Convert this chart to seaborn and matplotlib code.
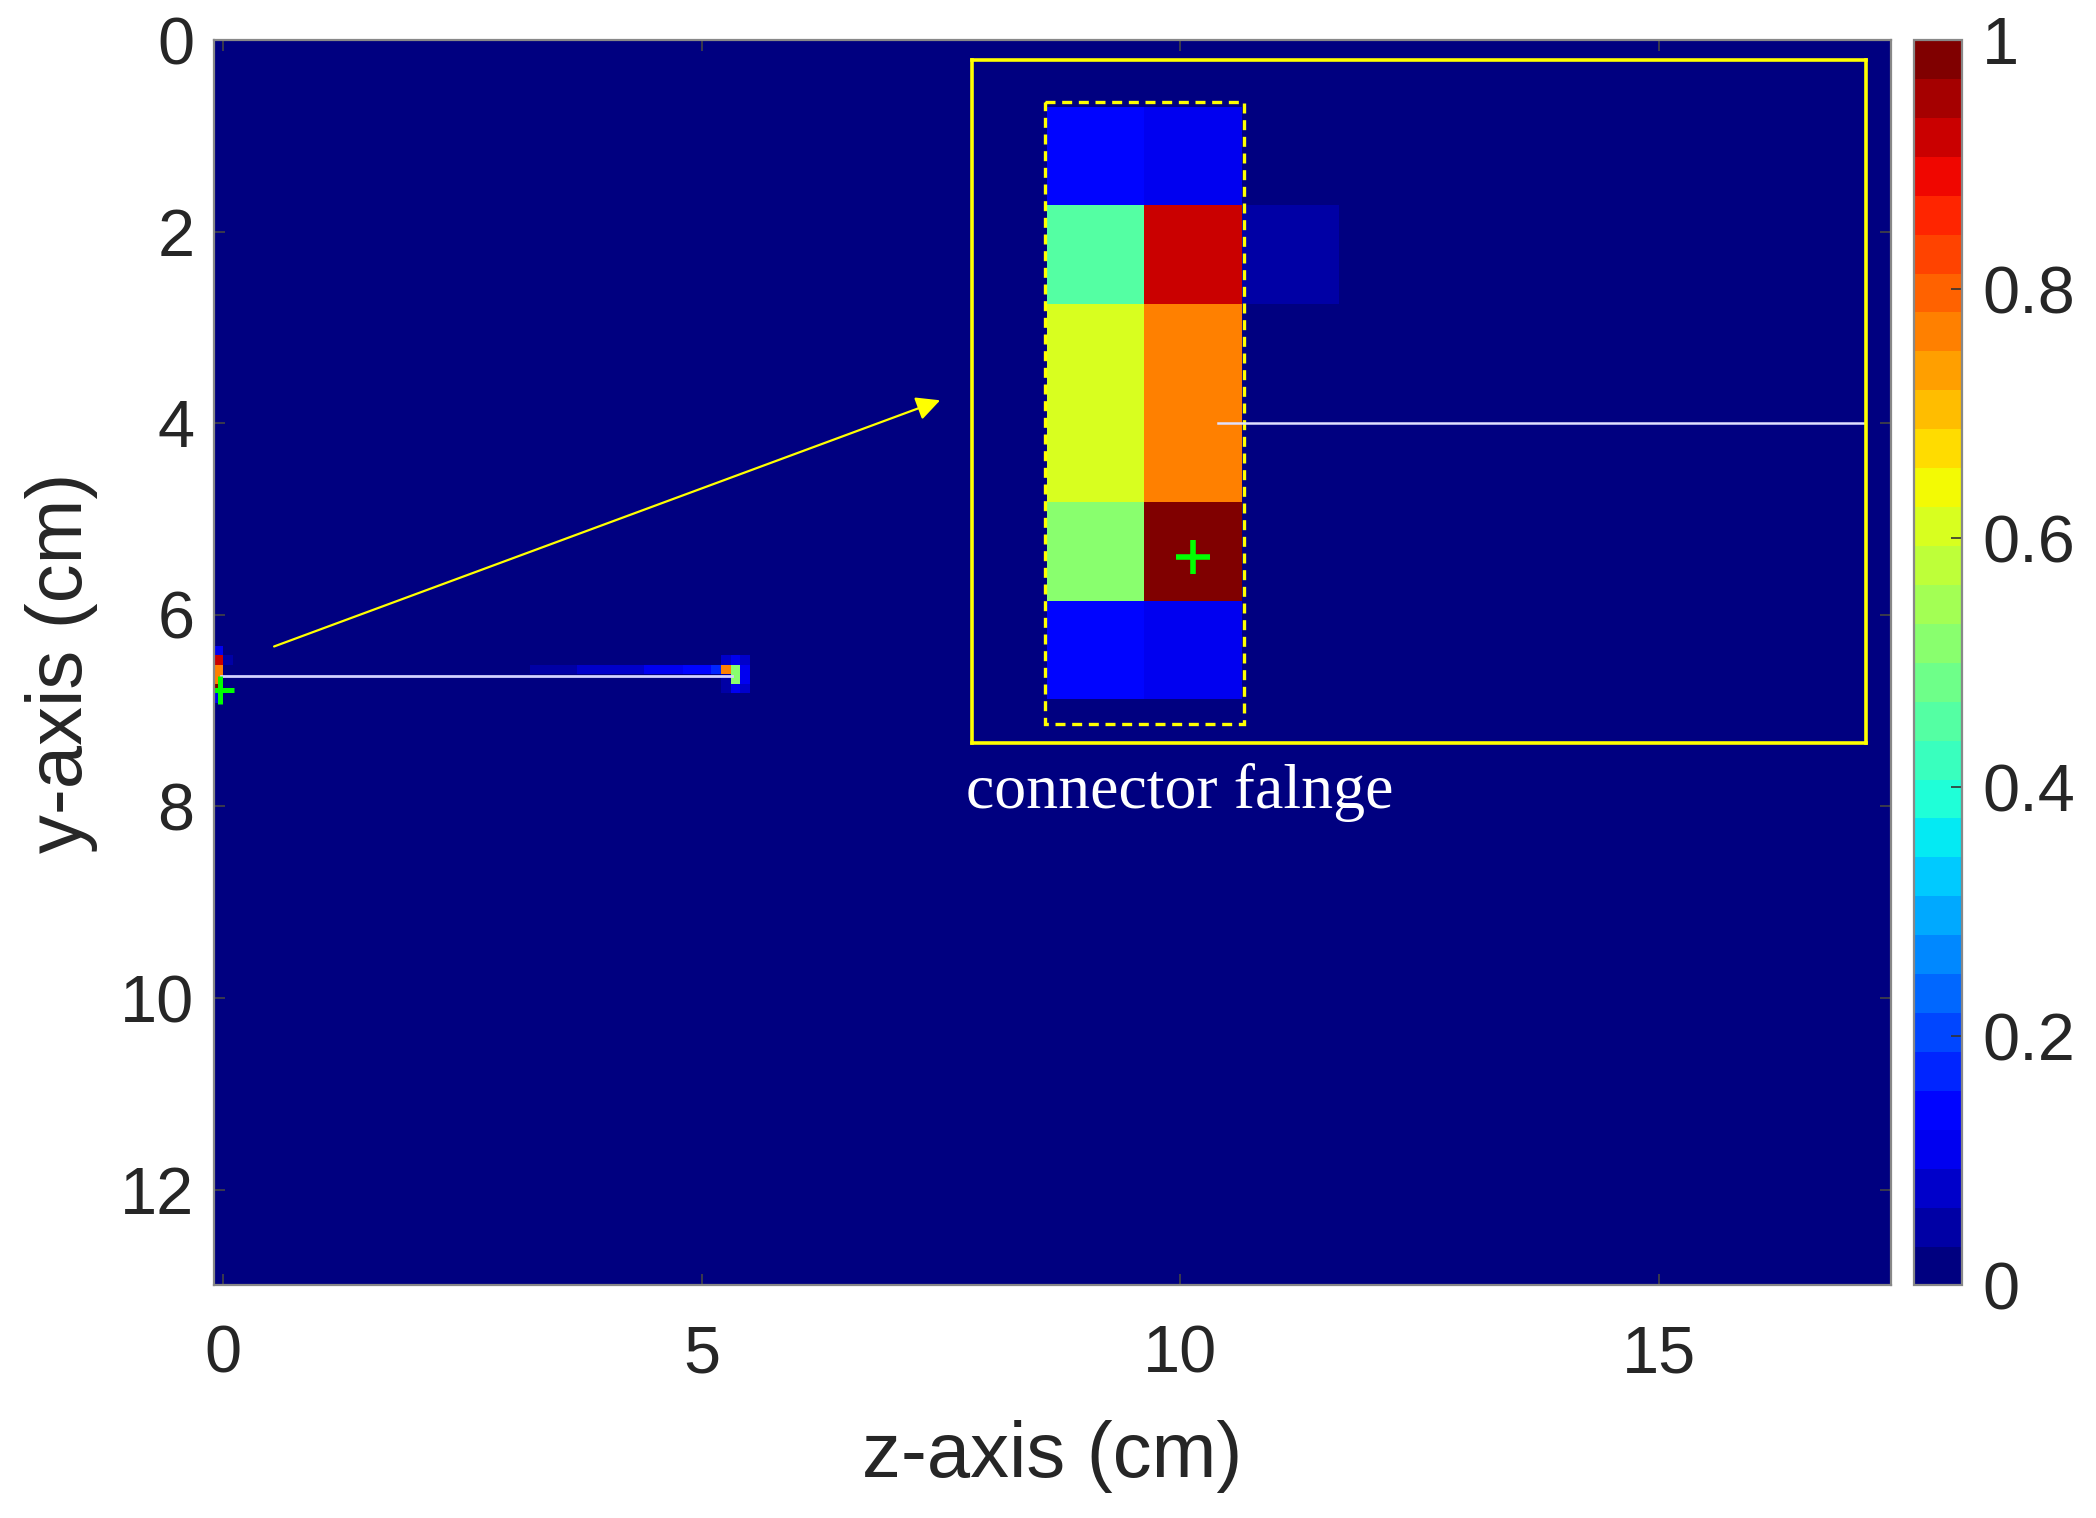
import numpy as np
import matplotlib
matplotlib.use('Agg')
import matplotlib.pyplot as plt
import seaborn as sns
from matplotlib.patches import Rectangle

# grid of 0.1 cm cells
# column k covers z = -0.2 + 0.1k ... ; row r covers y = (r - 0.8)/10 ...
n_rows, n_cols = 131, 177

# flange end near z = 0 (rows 64-69, columns 0-2)
flange_rows = [64, 65, 66, 67, 68, 69]
flange_col0 = [0.13, 0.44, 0.60, 0.60, 0.50, 0.13]
flange_col1 = [0.10, 0.91, 0.78, 0.78, 1.00, 0.10]
flange_col2 = [0.00, 0.05, 0.00, 0.00, 0.00, 0.00]

# faint strip along row 66, z ~ 3.2 .. 5.2
strip_row = 66
strip_cols = list(range(34, 54))
strip_vals = [0.05, 0.05, 0.06, 0.06, 0.06, 0.07, 0.07, 0.09, 0.09, 0.09,
              0.09, 0.09, 0.10, 0.10, 0.10, 0.12, 0.13, 0.13, 0.15, 0.18]

# hot spot at the far end (z ~ 5.3)
tip_rows = [66, 66, 67, 65, 65, 65, 66, 67, 67, 68, 68, 68]
tip_cols = [54, 55, 55, 54, 55, 56, 56, 56, 54, 54, 55, 56]
tip_vals = [0.78, 0.52, 0.52, 0.08, 0.10, 0.08, 0.12, 0.12, 0.06, 0.06, 0.10, 0.07]

x_ticks = [0, 5, 10, 15]
y_ticks = [0, 2, 4, 6, 8, 10, 12]
cbar_ticks = [0, 0.2, 0.4, 0.6, 0.8, 1]
cbar_labels = ['0', '0.2', '0.4', '0.6', '0.8', '1']

Z = np.zeros((n_rows, n_cols))
for r, a, b, c in zip(flange_rows, flange_col0, flange_col1, flange_col2):
    Z[r, 0], Z[r, 1], Z[r, 2] = a, b, c
for c, v in zip(strip_cols, strip_vals):
    Z[strip_row, c] = v
for r, c, v in zip(tip_rows, tip_cols, tip_vals):
    Z[r, c] = v


def zx(z):
    return 10 * z + 2


def yy(y):
    return 10 * y + 0.8


cmap = plt.get_cmap('jet', 32)
plt.rcParams['font.family'] = ['Liberation Sans', 'DejaVu Sans']
txt = '#262626'

fig = plt.figure(figsize=(10.48, 7.59), dpi=200)
ax = fig.add_axes([0.102, 0.1532, 0.8004, 0.8204])
cax = fig.add_axes([0.9133, 0.1532, 0.023, 0.8204])

sns.heatmap(Z, ax=ax, cmap=cmap, vmin=0, vmax=1, cbar_ax=cax,
            xticklabels=False, yticklabels=False)
ax.set_xlim(zx(-0.1), zx(17.43))
ax.set_ylim(yy(13), yy(0))
for s in ax.spines.values():
    s.set_visible(True)
    s.set_color('#888888')
    s.set_linewidth(0.8)
ax.set_xticks([zx(v) for v in x_ticks])
ax.set_xticklabels([str(v) for v in x_ticks])
ax.set_yticks([yy(v) for v in y_ticks])
ax.set_yticklabels([str(v) for v in y_ticks], rotation=0)
ax.tick_params(axis='both', direction='in', length=4, width=0.6, color='#444444',
               top=True, right=True, labelsize=24, labelcolor=txt)
ax.tick_params(axis='x', pad=14)
ax.tick_params(axis='y', pad=7)
ax.set_xlabel('z-axis (cm)', fontsize=28, color=txt, labelpad=12)
ax.set_ylabel('y-axis (cm)', fontsize=28, color=txt, labelpad=8)

cbar = ax.collections[0].colorbar
cbar.set_ticks(cbar_ticks)
cbar.set_ticklabels(cbar_labels)
cbar.ax.tick_params(direction='in', length=4, width=0.6, color='#333333',
                    labelsize=24, labelcolor=txt, pad=7)
cbar.outline.set_edgecolor('#888888')
cbar.outline.set_linewidth(0.8)

# white trace, source marker, arrow
ax.plot([1.8, 55.2], [67.2, 67.2], color=(0.82, 0.82, 1.0), lw=1.0)
ax.plot(1.6, 68.6, '+', color='#00ff00', ms=10, mew=1.8)
ax.annotate('', xy=(76.9, 38.4), xytext=(7.3, 64.1),
            arrowprops=dict(arrowstyle='-|>', color='yellow', lw=0.8,
                            mutation_scale=18, shrinkA=0, shrinkB=0))

# zoomed inset
axin = fig.add_axes([0.4636, 0.5106, 0.4267, 0.4498])
sns.heatmap(Z, ax=axin, cmap=cmap, vmin=0, vmax=1, cbar=False,
            xticklabels=False, yticklabels=False)
axin.set_facecolor(cmap(0))
axin.set_xlim(-0.77, 8.4)
axin.set_ylim(70.44, 63.53)
axin.set_xticks([])
axin.set_yticks([])
for s in axin.spines.values():
    s.set_visible(True)
    s.set_color('yellow')
    s.set_linewidth(1.3)
axin.plot([1.76, 8.4], [67.2, 67.2], color=(0.88, 0.88, 1.0), lw=0.9)
axin.plot(1.5, 68.56, '+', color='#00ff00', ms=12, mew=2.0)
axin.add_patch(Rectangle((-0.02, 63.95), 2.04, 6.3, fill=False, ec='yellow',
                         lw=1.2, ls=(0, (3, 2))))

fig.text(0.4611, 0.478, 'connector falnge', family='Liberation Serif',
         fontsize=23, color='white', va='center', ha='left')

fig.savefig('out.png', dpi=200)
